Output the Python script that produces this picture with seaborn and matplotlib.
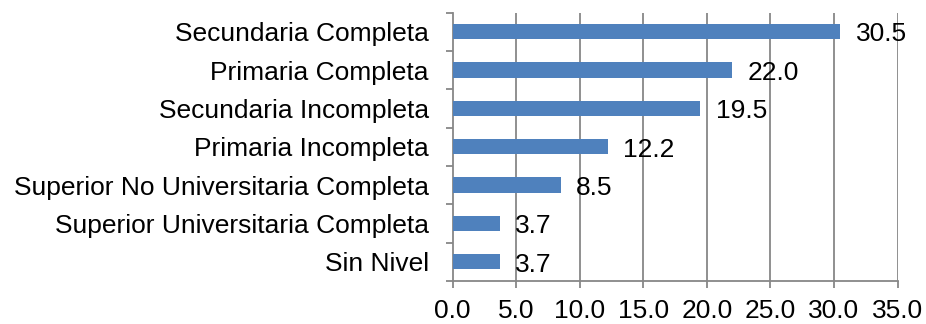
import matplotlib
matplotlib.use("Agg")
import matplotlib.pyplot as plt
import seaborn as sns
import pandas as pd

categories = [
    "Secundaria Completa",
    "Primaria Completa",
    "Secundaria Incompleta",
    "Primaria Incompleta",
    "Superior No Universitaria Completa",
    "Superior Universitaria Completa",
    "Sin Nivel",
]
values = [30.5, 22.0, 19.5, 12.2, 8.5, 3.7, 3.7]
x_ticks = [0, 5, 10, 15, 20, 25, 30, 35]

df = pd.DataFrame({"nivel": categories, "pct": values})

sns.set_theme(style="white")
plt.rcParams["font.family"] = ["Liberation Sans", "DejaVu Sans"]

fig = plt.figure(figsize=(9.26, 3.24), dpi=100)
ax = fig.add_axes([452.5 / 926, 1 - 281 / 324, (897.5 - 452.5) / 926, (281 - 12.5) / 324])

bar_color = "#4F81BD"
grid_color = "#878787"
fs = 19

sns.barplot(data=df, y="nivel", x="pct", orient="h", color=bar_color,
            width=0.4, saturation=1, linewidth=0, ax=ax, zorder=3)

ax.set_xlim(0, 35)
ax.set_ylim(len(categories) - 0.5, -0.5)
ax.set_xticks(x_ticks)
ax.set_xticklabels([f"{t:.1f}" for t in x_ticks])
ax.set_xlabel("")
ax.set_ylabel("")

# vertical gridlines
for t in x_ticks[1:]:
    ax.axvline(t, color=grid_color, lw=1.3, zorder=1)

for side in ["top", "right"]:
    ax.spines[side].set_visible(False)
for side in ["left", "bottom"]:
    ax.spines[side].set_color(grid_color)
    ax.spines[side].set_linewidth(1.3)

# y ticks at category boundaries
ax.set_yticks([i for i in range(len(categories))])
ax.set_yticklabels(categories)
ax.set_yticks([i - 0.5 for i in range(len(categories) + 1)], minor=True)
ax.tick_params(axis="y", which="major", length=0, pad=17, labelsize=fs, colors="black")
ax.tick_params(axis="y", which="minor", length=5, width=1.3, color=grid_color, left=True)
ax.tick_params(axis="x", which="major", length=5, width=1.3, color=grid_color,
               pad=8, labelsize=fs, labelcolor="black", bottom=True)

for i, v in enumerate(values):
    ax.annotate(f"{v:.1f}", xy=(v, i), xytext=(11, -2), textcoords="offset points",
                ha="left", va="center", fontsize=fs, color="black", zorder=4)

fig.savefig("out.png", dpi=100)
